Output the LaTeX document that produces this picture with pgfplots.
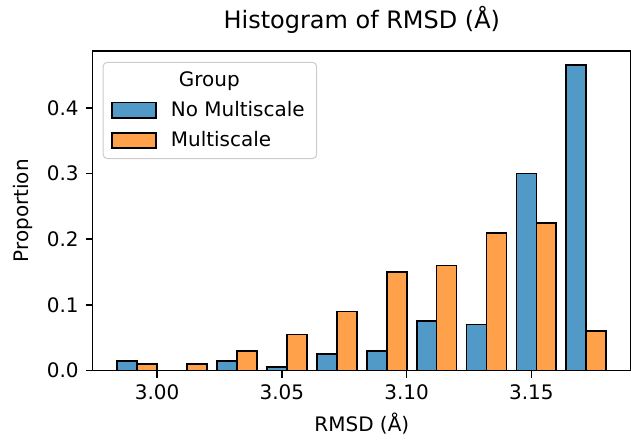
\documentclass[border=0pt]{standalone}
\usepackage{fontspec}
\setmainfont{DejaVu Sans}
\usepackage{pgfplots}
\pgfplotsset{compat=1.18}

\definecolor{mblue}{RGB}{81,153,199}
\definecolor{morange}{RGB}{255,160,74}

% bin centres 2.992 + 0.02 k, bars dodged by +-0.004
\pgfplotstableread{
x     y
2.988 0.015
3.028 0.015
3.048 0.005
3.068 0.025
3.088 0.030
3.108 0.075
3.128 0.070
3.148 0.300
3.168 0.465
}\noms
\pgfplotstableread{
x     y
2.996 0.010
3.016 0.010
3.036 0.030
3.056 0.055
3.076 0.090
3.096 0.150
3.116 0.160
3.136 0.210
3.156 0.225
3.176 0.060
}\ms

\begin{document}
\begin{tikzpicture}
\begin{axis}[
  scale only axis,
  width=269.5pt, height=160pt,
  xmin=2.9742, xmax=3.1899,
  ymin=0, ymax=0.4867,
  xtick={3.00,3.05,3.10,3.15},
  ytick={0,0.1,0.2,0.3,0.4},
  xticklabel style={/pgf/number format/.cd,fixed,fixed zerofill,precision=2},
  yticklabel style={/pgf/number format/.cd,fixed,fixed zerofill,precision=1},
  /pgf/number format/assume math mode=true,
  tick align=outside,
  tick pos=left,
  major tick length=3.5pt,
  every tick/.style={black, line width=0.8pt},
  axis line style={line width=0.8pt},
  ticklabel style={font=\fontsize{10}{12}\selectfont},
  label style={font=\fontsize{10}{12}\selectfont},
  xlabel={RMSD (Å)},
  ylabel={Proportion},
  title={Histogram of RMSD (Å)},
  title style={font=\fontsize{12}{14}\selectfont, yshift=-1pt},
  ybar, bar width=0.008,
  legend style={
    at={(0,1)}, anchor=north west, xshift=5pt, yshift=-5.5pt,
    draw=black!20, rounded corners=2pt, line width=0.5pt,
    font=\fontsize{10}{12}\selectfont,
    inner xsep=4pt, inner ysep=2.5pt, row sep=2pt,
    /tikz/every odd column/.append style={column sep=5pt},
  },
  legend cell align=left,
  legend image code/.code={\draw[#1, sharp corners, line width=0.9pt] (0pt,-3.9pt) rectangle (22pt,3.9pt);},
]
\addlegendimage{empty legend}
\addlegendentry{\hspace*{4pt}Group}
\addplot[bar shift=0pt, fill=mblue, draw=black, line width=0.9pt] table[x=x,y=y] {\noms};
\addlegendentry{No Multiscale}
\addplot[bar shift=0pt, fill=morange, draw=black, line width=0.9pt] table[x=x,y=y] {\ms};
\addlegendentry{Multiscale}
\end{axis}
\pgfresetboundingbox
\path[use as bounding box] (-46.4pt,-36pt) rectangle (269.5pt,185.5pt);
\end{tikzpicture}
\end{document}
